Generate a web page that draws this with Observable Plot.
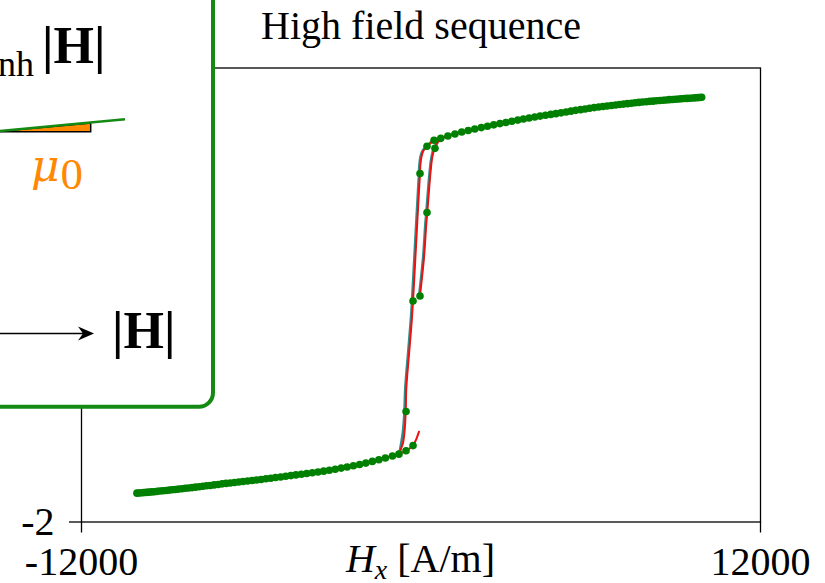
<!DOCTYPE html>
<html><head><meta charset="utf-8">
<script src="https://cdn.jsdelivr.net/npm/d3@7"></script>
<script src="https://cdn.jsdelivr.net/npm/@observablehq/plot@0.6"></script>
<style>
html,body{margin:0;padding:0;background:#fff;}
#chart{width:825px;height:583px;overflow:hidden;position:relative;}
</style></head><body><div id="chart"></div>
<script>
// ---- tick labels / texts ----
const xTicks = [-12000, 12000];
const yTicks = [-2, 2];
const titleText = "High field sequence";

// ---- measured points (green dots), upper saturation branch ----
const upperH = [700, 950, 1200, 1440, 1670, 1900, 2130, 2350, 2570, 2790, 3000, 3210, 3420, 3620, 3820, 4020, 4210, 4400, 4590, 4770, 4950, 5130, 5300, 5470, 5640, 5800, 5960, 6120, 6280, 6430, 6580, 6730, 6880, 7020, 7160, 7300, 7440, 7570, 7700, 7830, 7960, 8080, 8200, 8320, 8440, 8560, 8670, 8780, 8890, 9000, 9110, 9210, 9310, 9410, 9510, 9610, 9700, 9790, 9860, 9920];
const upperM = [1.380, 1.401, 1.419, 1.436, 1.450, 1.462, 1.475, 1.487, 1.499, 1.510, 1.520, 1.531, 1.541, 1.550, 1.559, 1.568, 1.576, 1.584, 1.591, 1.598, 1.605, 1.612, 1.620, 1.627, 1.633, 1.639, 1.645, 1.651, 1.656, 1.661, 1.665, 1.670, 1.674, 1.679, 1.682, 1.686, 1.690, 1.694, 1.697, 1.700, 1.703, 1.706, 1.708, 1.711, 1.714, 1.716, 1.718, 1.721, 1.723, 1.725, 1.727, 1.729, 1.731, 1.732, 1.734, 1.736, 1.737, 1.739, 1.740, 1.742];
// lower saturation branch
const lowerH = [-780, -1010, -1260, -1490, -1720, -1950, -2170, -2390, -2610, -2820, -3030, -3240, -3440, -3640, -3840, -4040, -4230, -4420, -4600, -4780, -4960, -5140, -5310, -5480, -5650, -5810, -5970, -6130, -6290, -6440, -6590, -6740, -6890, -7030, -7170, -7310, -7450, -7580, -7710, -7840, -7970, -8090, -8210, -8330, -8450, -8570, -8680, -8790, -8900, -9010, -9120, -9220, -9320, -9420, -9520, -9620, -9710, -9800, -9890, -9980, -10040];
const lowerM = [-1.402, -1.419, -1.436, -1.451, -1.466, -1.481, -1.493, -1.504, -1.515, -1.525, -1.535, -1.544, -1.552, -1.559, -1.566, -1.573, -1.579, -1.585, -1.591, -1.597, -1.603, -1.608, -1.614, -1.619, -1.625, -1.630, -1.635, -1.639, -1.643, -1.647, -1.652, -1.656, -1.660, -1.664, -1.669, -1.673, -1.678, -1.681, -1.685, -1.689, -1.693, -1.697, -1.700, -1.703, -1.707, -1.710, -1.713, -1.716, -1.719, -1.722, -1.725, -1.727, -1.730, -1.733, -1.735, -1.737, -1.739, -1.741, -1.743, -1.745, -1.746];
// dots on the switching parts
const stepDotH = [460, 212, -35, -282, -529, -282, -529, -35, 212, 494];
const stepDotM = [1.363, 1.310, 1.071, -0.053, -1.027, -1.327, -1.372, -0.009, 0.726, 1.292];

// ---- red model curve, switching parts ----
const descSteepH = [460, 212, 88, 18, -25, -35, -71, -176, -282, -328, -424, -519, -540, -582, -635, -706];
const descSteepM = [1.363, 1.310, 1.274, 1.221, 1.142, 1.071, 0.920, 0.434, -0.053, -0.230, -0.522, -0.820, -1.027, -1.204, -1.301, -1.354];
const ascLowSteepH = [-529, -282, -159, -71];
const ascLowSteepM = [-1.372, -1.327, -1.265, -1.204];
const ascHighSteepH = [-46, 106, 187, 222, 282, 342, 399, 484];
const ascHighSteepM = [-0.024, 0.330, 0.626, 0.728, 0.920, 1.097, 1.215, 1.295];

// ---- teal curve, switching parts ----
const tealDescH = [700, 430, 180, 50, -20, -60, -70, -105, -212, -318, -364, -460, -556, -585, -640, -700, -745, -780];
const tealDescM = [1.380, 1.360, 1.304, 1.268, 1.215, 1.136, 1.066, 0.916, 0.430, -0.057, -0.234, -0.526, -0.824, -1.031, -1.208, -1.305, -1.370, -1.402];
const tealAscH = [-75, 75, 155, 190, 250, 312, 372, 460, 700];
const tealAscM = [-0.024, 0.330, 0.626, 0.728, 0.920, 1.097, 1.215, 1.295, 1.380];

const rows = (H, M, s) => H.map((h, i) => ({H: h, M: M[i], s}));
const rev = a => a.slice().reverse();

const redData = [
  ...rows(rev(upperH), rev(upperM), "d"), ...rows(descSteepH, descSteepM, "d"), ...rows(lowerH, lowerM, "d"),
  ...rows(rev(lowerH), rev(lowerM), "a1"), ...rows(ascLowSteepH, ascLowSteepM, "a1"),
  ...rows(ascHighSteepH, ascHighSteepM, "a2"), ...rows(upperH, upperM, "a2")
];
const tealData = [...rows(tealDescH, tealDescM, "t1"), ...rows(tealAscH, tealAscM, "t2")];
const dotData = [...rows(upperH, upperM, "u"), ...rows(lowerH, lowerM, "l"), ...rows(stepDotH, stepDotM, "s")];

const FONT = "'Liberation Serif', 'Times New Roman', serif";

const plot = Plot.plot({
  width: 825, height: 583,
  marginLeft: 81, marginRight: 65, marginTop: 67.5, marginBottom: 61.5,
  x: {domain: [-12000, 12000]},
  y: {domain: [-2, 2]},
  style: {fontFamily: FONT, fontSize: "40px", color: "black", background: "white"},
  marks: [
    Plot.frame({stroke: "black", strokeWidth: 1.3}),
    Plot.axisX({ticks: xTicks, tickFormat: d => String(d), tickSize: 11, tickPadding: 14, fontSize: 40, label: null, strokeWidth: 1.3}),
    Plot.axisY({ticks: yTicks, tickFormat: d => String(d), tickSize: 12, tickPadding: 15, fontSize: 40, label: null, strokeWidth: 1.3}),
    Plot.line(tealData, {x: "H", y: "M", z: "s", stroke: "#2f8f8f", strokeWidth: 2.6, curve: "catmull-rom"}),
    Plot.line(redData, {x: "H", y: "M", z: "s", stroke: "#f01010", strokeWidth: 2, curve: "catmull-rom"}),
    Plot.dot(dotData, {x: "H", y: "M", r: 3.8, fill: "#008000", stroke: "none"}),
    Plot.text([titleText], {frameAnchor: "top", lineAnchor: "bottom", dy: -29, fontSize: 40, fill: "black"})
  ]
});

const svg = d3.select(plot);
// x-axis label with subscript
const xl = svg.append("text").attr("x", 420.5).attr("y", 572).attr("text-anchor", "middle")
  .attr("font-family", FONT).attr("font-size", 40).attr("fill", "black");
xl.append("tspan").attr("font-style", "italic").text("H");
xl.append("tspan").attr("font-style", "italic").attr("font-size", 28).attr("dy", 7).text("x");
xl.append("tspan").attr("dy", -7).text("\u00a0[A/m]");

// inset sketch box
const g = svg.append("g").attr("font-family", FONT).attr("text-anchor", "start");
g.append("rect").attr("x", -30).attr("y", -30).attr("width", 243).attr("height", 436.7).attr("rx", 14)
  .attr("fill", "white").attr("stroke", "#148a14").attr("stroke-width", 4);
g.append("text").attr("x", 34).attr("y", 76).attr("text-anchor", "end").attr("font-size", 36).attr("fill", "black").text("anh");
g.append("text").attr("x", 42).attr("y", 63).attr("text-anchor", "start").attr("font-size", 52).attr("font-weight", "bold").attr("fill", "black").text("|H|");
g.append("polygon").attr("points", "-5,131.7 90.7,123 90.7,131.7").attr("fill", "#ff8800").attr("stroke", "black").attr("stroke-width", 1.5);
g.append("line").attr("x1", -5).attr("y1", 131.5).attr("x2", 125).attr("y2", 119.3).attr("stroke", "#148a14").attr("stroke-width", 2.5);
const mu = g.append("text").attr("x", 31).attr("y", 181).attr("text-anchor", "start").attr("fill", "#ff8800");
mu.append("tspan").attr("font-style", "italic").attr("font-family", "'DejaVu Serif', 'Liberation Serif', serif").attr("font-size", 44).text("\u03bc");
mu.append("tspan").attr("font-size", 45).attr("dy", 8).attr("dx", 1).text("0");
g.append("line").attr("x1", -5).attr("y1", 333.5).attr("x2", 86).attr("y2", 333.5).attr("stroke", "black").attr("stroke-width", 1.5);
g.append("polygon").attr("points", "94,333.5 78,326.5 83,333.5 78,340.5").attr("fill", "black");
g.append("text").attr("x", 112).attr("y", 348).attr("text-anchor", "start").attr("font-size", 52).attr("font-weight", "bold").attr("fill", "black").text("|H|");

document.getElementById("chart").appendChild(plot);
</script></body></html>
